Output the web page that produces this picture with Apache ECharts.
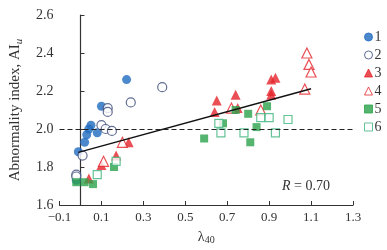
<!DOCTYPE html>
<html>
<head>
<meta charset="utf-8">
<script src="https://cdn.jsdelivr.net/npm/echarts@6/dist/echarts.min.js"></script>
<style>
  html, body { margin: 0; padding: 0; background: #fff; }
  #chart { width: 387px; height: 250px; }
</style>
</head>
<body>
<div id="chart"></div>
<script>
// series data: [lambda40, AIu]
var s1 = [[0.22,2.26],[0.10,2.12],[0.05,2.02],[0.04,2.00],[0.03,1.97],[0.02,1.93],[0.08,1.98],[-0.01,1.88],[-0.02,1.73]];
var s2 = [[0.39,2.22],[0.24,2.14],[0.13,2.11],[0.13,2.09],[0.10,2.02],[0.12,2.00],[0.15,1.99],[0.01,1.86],[-0.02,1.76],[-0.02,1.75]];
var s3 = [[0.23,1.93],[0.17,1.86],[0.10,1.81],[0.04,1.74],[0.65,2.15],[0.64,2.09],[0.74,2.18],[0.75,2.11],[0.91,2.26],[0.93,2.27],[0.91,2.20],[0.91,2.18]];
var s4 = [[0.20,1.93],[0.11,1.83],[1.08,2.40],[1.09,2.34],[1.10,2.30],[1.07,2.21],[0.86,2.10],[0.72,2.11]];
var s5 = [[-0.02,1.72],[0.02,1.72],[0.06,1.71],[0.16,1.80],[0.59,1.95],[0.68,2.03],[0.74,2.10],[0.80,2.08],[0.89,2.12],[0.84,2.01],[0.81,1.93]];
var s6 = [[0.08,1.76],[0.17,1.83],[0.66,2.03],[0.67,1.98],[0.78,1.98],[0.86,2.06],[0.90,2.06],[0.99,2.05],[0.93,1.98]];
var fitX = [-0.01, 1.10];
var fitY = [1.877, 2.212];
var xTicks = [-0.1, 0.1, 0.3, 0.5, 0.7, 0.9, 1.1, 1.3];
var refLevel = 2.0;

var serif = '"Liberation Serif", "DejaVu Serif", serif';
var blue = '#1f6cbf', navy = '#3b4a78', red = '#e5232b', green = '#2aa24b', teal = '#3cb47c';

function sc(name, data, symbol, fill, stroke, size) {
    return {
        name: name,
        type: 'scatter',
        data: data,
        symbol: symbol,
        symbolSize: size,
        itemStyle: { color: fill, borderColor: stroke, borderWidth: fill === '#fff' ? 1.2 : 0 },
        z: 3
    };
}

var option = {
    animation: false,
    grid: { left: 53, right: 34, top: 15, bottom: 39 },
    legend: {
        orient: 'vertical',
        left: 359,
        top: 25,
        itemWidth: 8,
        itemHeight: 8,
        itemGap: 4,
        itemStyle: { borderWidth: 1 },
        textStyle: { fontFamily: serif, fontSize: 14, color: '#333', padding: [0, 0, 0, -3] },
        data: ['1', '2', '3', '4', '5', '6']
    },
    xAxis: {
        type: 'value',
        min: -0.1, max: 1.3, interval: 0.2,
        name: '{l|λ}{s|40}',
        nameLocation: 'middle',
        nameGap: 24,
        nameTextStyle: { rich: { l: { fontFamily: serif, fontSize: 14, color: '#333' }, s: { fontFamily: serif, fontSize: 10, color: '#333', padding: [6, 0, 0, 0] } } },
        axisLine: { lineStyle: { color: '#333', width: 1.2 } },
        axisTick: { inside: true, length: 4, lineStyle: { color: '#333' } },
        axisLabel: { fontFamily: serif, fontSize: 13, color: '#333', margin: 6, formatter: function (v) { return xTicks.indexOf(Math.round(v * 10) / 10) >= 0 ? v.toFixed(1).replace('-', '−') : ''; } },
        splitLine: { show: false }
    },
    yAxis: {
        type: 'value',
        min: 1.6, max: 2.6, interval: 0.2,
        name: '{t|Abnormality index, AI}{u|u}',
        nameLocation: 'middle',
        nameGap: 35,
        nameTextStyle: { rich: { t: { fontFamily: serif, fontSize: 15, color: '#333' }, u: { fontFamily: serif, fontSize: 11, fontStyle: 'italic', color: '#333', padding: [7, 0, 0, 0] } } },
        axisLine: { show: true, lineStyle: { color: '#333', width: 1.2 } },
        axisTick: { show: true, inside: true, length: 4, lineStyle: { color: '#333' } },
        axisLabel: { fontFamily: serif, fontSize: 14, color: '#333', margin: 6, formatter: function (v) { return v.toFixed(1); } },
        splitLine: { show: false }
    },
    series: [
        sc('1', s1, 'circle', blue, blue, 9),
        sc('2', s2, 'circle', '#fff', navy, 9),
        sc('3', s3, 'triangle', red, red, 10),
        sc('4', s4, 'triangle', '#fff', red, 10),
        sc('5', s5, 'rect', green, green, 8),
        sc('6', s6, 'rect', '#fff', teal, 8),
        {
            name: 'fit',
            type: 'line',
            data: fitX.map(function (x, i) { return [x, fitY[i]]; }),
            symbol: 'none',
            lineStyle: { color: '#111', width: 1.5 },
            z: 4,
            markLine: {
                silent: true,
                symbol: 'none',
                label: { show: false },
                lineStyle: { color: '#222', type: [5, 3], width: 1.2 },
                data: [{ yAxis: refLevel }]
            }
        }
    ],
    graphic: [{
        type: 'text',
        left: 282,
        top: 179,
        style: {
            text: '{r|R} = 0.70',
            font: '14px ' + serif,
            fill: '#333',
            rich: { r: { fontFamily: serif, fontSize: 14, fontStyle: 'italic', fill: '#333' } }
        }
    }]
};

var chart = echarts.init(document.getElementById('chart'));
chart.setOption(option);
</script>
</body>
</html>
